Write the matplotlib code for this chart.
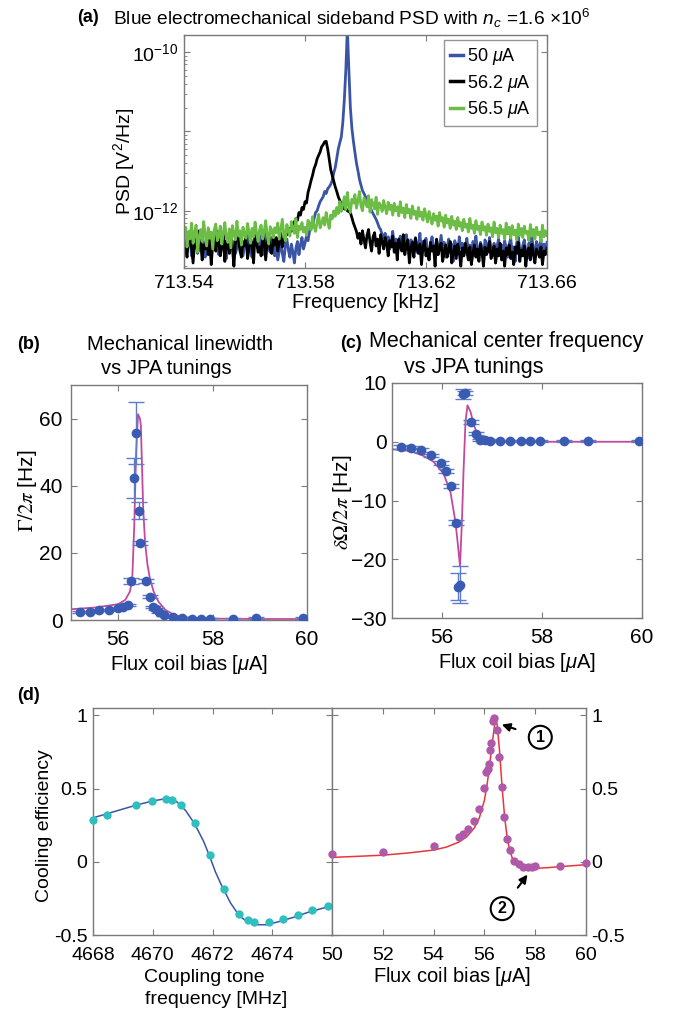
import numpy as np
import matplotlib
matplotlib.use("Agg")
import matplotlib.pyplot as plt

W, H = 673, 1015

# ---- (a) PSD traces, values in units of 1e-14 V^2/Hz, one every 0.5 Hz from 713.540 kHz ----
freq_khz = np.round(np.arange(241) * 0.0005 + 713.540, 4)
psd_50uA = [
    52, 44, 31, 38, 46, 27, 35, 49, 41, 29, 33, 55, 47, 36, 26, 42, 39, 51, 30, 37,
    45, 58, 34, 28, 40, 48, 43, 32, 25, 39, 53, 46, 35, 41, 29, 34, 50, 44, 38, 27,
    36, 47, 55, 42, 31, 26, 38, 45, 40, 33, 49, 37, 28, 43, 52, 39, 34, 30, 46, 41,
    27, 35, 24, 31, 40, 29, 23, 36, 44, 32, 26, 38, 30, 22, 34, 41, 28, 37, 46, 33, 39, 48, 42, 55,
    70, 62, 80, 95, 100, 115, 130, 140, 150, 175, 165, 190, 200, 215, 240, 300, 350, 460, 600, 720,
    850, 1300, 2500, 6000, 20000, 6000, 2000, 1100, 750, 550, 400, 320, 250, 210, 180, 165, 150, 140,
    130, 115, 100, 92, 85, 78, 70, 62, 58, 50,
    45, 52, 38, 47, 33, 41, 55, 36, 44, 29, 39, 48, 35, 42, 31, 50, 37, 26, 43, 40,
    34, 46, 30, 38, 52, 27, 41, 36, 45, 32, 24, 39, 47, 35, 30, 42, 28, 37, 49, 33,
    40, 26, 35, 44, 31, 38, 23, 42, 36, 29, 47, 34, 39, 27, 33, 45, 30, 37, 25, 41,
    36, 48, 32, 28, 40, 35, 24, 43, 38, 30, 46, 33, 27, 39, 22, 36, 44, 31, 37, 29,
    42, 34, 26, 38, 45, 30, 35, 23, 40, 47, 33, 28, 37, 43, 31, 25, 39, 35, 48, 32,
    27, 41, 36, 30, 44, 24, 38, 33, 40]
psd_562uA = [
    44, 36, 26, 48, 53, 34, 22, 39, 45, 30, 56, 41, 24, 37, 33, 49, 28, 43, 21, 38,
    46, 31, 55, 40, 27, 35, 50, 23, 42, 37, 29, 47, 34, 20, 39, 52, 44, 31, 26, 41,
    36, 48, 25, 33, 45, 38, 22, 54, 40, 30, 35, 27, 47, 42, 24, 39, 51, 33, 29, 44,
    37, 46, 31, 40, 52, 35, 43, 48,
    50, 58, 60, 55, 65, 72, 80, 76, 95, 88, 110, 104, 130, 125, 170, 200, 240, 280, 340, 380,
    450, 500, 550, 640, 680, 740, 750, 600, 450, 330, 280, 240, 200, 175, 150, 135, 120, 112,
    105, 108, 100, 97, 95, 82, 70, 62, 55,
    45, 52, 38, 56, 43, 34, 49, 58, 40, 31, 47, 53, 36, 44, 29, 50, 41, 33, 46, 38,
    27, 42, 35, 48, 30, 39, 24, 44, 36, 31, 50, 28, 37, 43, 22, 34, 40, 26, 45, 33,
    29, 38, 21, 35, 42, 27, 33, 24, 40, 31, 36, 20, 44, 28, 34, 39, 23, 30, 37, 26,
    32, 41, 22, 29, 36, 25, 38, 30, 20, 34, 27, 39, 31, 24, 35, 21, 29, 37, 26, 33,
    23, 38, 30, 20, 35, 28, 32, 41, 25, 29, 36, 22, 33, 27, 39, 24, 31, 20, 34, 28,
    37, 25, 30, 21, 35, 29, 40, 23, 32, 27, 36, 20, 31, 34, 24, 38, 28, 22, 33, 30,
    26, 35, 21, 31, 28, 34]
psd_565uA = [
    48, 62, 35, 55, 44, 70, 39, 52, 66, 30, 47, 58, 41, 73, 50, 36, 61, 45, 54, 33,
    57, 68, 42, 49, 64, 38, 53, 71, 46, 40, 59, 34, 65, 51, 43, 74, 48, 56, 37, 62,
    50, 45, 69, 54, 39, 60, 47, 72, 52, 41, 58, 66, 44, 55, 75, 49, 38, 63, 57, 46,
    61, 53, 70, 44, 59, 78, 50, 42, 67, 56, 48, 73, 60, 52, 80, 46, 64, 58, 71, 54,
    62, 49, 76, 68, 57, 84, 63, 55, 72, 90, 61, 70, 82, 66, 95, 74, 60, 88, 79, 100,
    85, 110, 92, 130, 98, 120, 150, 104, 170, 118, 95, 140, 125, 160, 108, 132, 175, 115, 100, 145,
    128, 112, 155, 96, 138, 120, 105, 148, 90, 126, 116,
    98, 135, 110, 92, 128, 104, 118, 88, 124, 100, 112, 86, 130, 95, 108, 82, 120, 94, 104, 80,
    115, 90, 98, 78, 110, 85, 96, 76, 106, 88,
    72, 98, 80, 68, 92, 76, 86, 64, 95, 74, 82, 62, 88, 70, 78, 60, 85, 66, 74, 58,
    82, 64, 71, 56, 78, 62, 68, 54, 80, 60, 66, 52, 75, 58, 64, 50, 72, 57, 63, 49,
    68, 55, 61, 47, 72, 53, 60, 46, 66, 52, 58, 44, 70, 51, 62, 45, 65, 50, 57, 43,
    68, 49, 60, 46, 64, 52, 55, 42, 67, 48, 58, 44, 62, 50, 54, 41, 66, 47, 56, 49]
psd_labels = [r"50 $\mu$A", r"56.2 $\mu$A", r"56.5 $\mu$A"]

# ---- (b) mechanical linewidth ----
bias_b = [55.2, 55.4, 55.6, 55.8, 56.0, 56.1, 56.2, 56.27, 56.33, 56.38, 56.44, 56.47, 56.59,
          56.67, 56.74, 56.8, 56.87, 56.97, 57.17, 57.36, 57.56, 57.75, 57.94, 58.44, 58.93, 59.92]
gamma_hz = [2.3, 2.4, 2.9, 3.0, 3.6, 4.0, 4.6, 11.6, 42.3, 55.7, 32.6, 22.9, 11.6,
            6.9, 4.0, 3.2, 2.4, 1.4, 0.8, 0.5, 0.4, 0.3, 0.3, 0.4, 0.5, 0.5]
gamma_err = [0.3, 0.3, 0.3, 0.3, 0.3, 0.3, 0.3, 1.0, 6.0, 9.3, 2.5, 0.7, 0.6,
             0.4, 0.3, 0.3, 0.3, 0.3, 0.3, 0.3, 0.3, 0.3, 0.3, 0.3, 0.3, 0.3]
fit_b_x = [55.0, 55.5, 56.0, 56.15, 56.25, 56.3, 56.34, 56.38, 56.42, 56.46, 56.48, 56.5,
           56.53, 56.57, 56.62, 56.67, 56.75, 56.85, 57.0, 57.2, 57.5, 58.0, 59.0, 60.0]
fit_b_y = [3.2, 3.7, 4.7, 6.0, 8.5, 13, 28, 50, 61.3, 60, 58, 48,
           33, 23, 16.5, 12.5, 8.5, 5.5, 3.0, 1.4, 0.7, 0.4, 0.3, 0.3]

# ---- (c) mechanical frequency shift ----
bias_c = [55.18, 55.38, 55.58, 55.78, 55.97, 56.07, 56.17, 56.27, 56.32, 56.35, 56.42, 56.46,
          56.57, 56.67, 56.75, 56.85, 56.95, 57.15, 57.35, 57.57, 57.75, 57.95, 58.43, 58.92, 59.93]
shift_hz = [-0.9, -1.0, -1.4, -2.3, -3.6, -5.0, -7.5, -13.8, -24.7, -24.3, 8.1, 8.3,
            3.4, 1.4, 0.3, 0.3, 0.2, 0.1, 0.1, 0.1, 0.1, 0.1, 0.1, 0.1, 0.1]
shift_err = [0.4, 0.3, 0.3, 0.3, 0.3, 0.3, 0.3, 0.4, 2.3, 3.1, 0.9, 0.4,
             0.3, 0.3, 0.2, 0.2, 0.2, 0.2, 0.2, 0.2, 0.2, 0.2, 0.2, 0.2, 0.2]
fit_c_x = [55.0, 55.37, 55.63, 55.83, 56.03, 56.17, 56.27, 56.32, 56.36, 56.4, 56.43, 56.47,
           56.51, 56.57, 56.64, 56.72, 56.84, 57.0, 58.0, 60.0]
fit_c_y = [-1.27, -1.6, -2.4, -3.4, -5.4, -8.6, -13.7, -17.7, -21.2, -13.2, -5.1, 3.4,
           6.2, 5.1, 2.8, 0.9, 0.1, 0.0, 0.0, 0.0]

# ---- (d) cooling efficiency ----
tone_mhz = [4668.0, 4668.47, 4669.44, 4669.96, 4670.44, 4670.63, 4670.94, 4671.42, 4671.91,
            4672.4, 4672.89, 4673.19, 4673.39, 4673.89, 4674.37, 4674.87, 4675.34, 4675.86]
eff_tone = [0.284, 0.318, 0.386, 0.416, 0.427, 0.425, 0.39, 0.268, 0.045,
            -0.189, -0.36, -0.398, -0.41, -0.414, -0.39, -0.366, -0.33, -0.30]
fit_tone_x = [4668.0, 4668.5, 4669.0, 4669.5, 4670.0, 4670.4, 4670.8, 4671.1, 4671.4, 4671.7,
              4671.9, 4672.1, 4672.3, 4672.6, 4672.9, 4673.2, 4673.5, 4673.8, 4674.2, 4674.7,
              4675.2, 4675.9]
fit_tone_y = [0.30, 0.33, 0.36, 0.39, 0.415, 0.43, 0.41, 0.35, 0.26, 0.14,
              0.04, -0.07, -0.16, -0.28, -0.37, -0.415, -0.43, -0.43, -0.41, -0.38,
              -0.345, -0.305]
bias_d = [50.0, 52.0, 54.0, 55.01, 55.17, 55.37, 55.58, 55.78, 55.98, 56.07, 56.14, 56.19,
          56.23, 56.27, 56.33, 56.39, 56.5, 56.59, 56.68, 56.79, 56.9, 57.0, 57.17, 57.36,
          57.53, 57.72, 57.89, 57.99, 58.98, 59.99]
eff_bias = [0.052, 0.064, 0.107, 0.166, 0.189, 0.223, 0.277, 0.357, 0.505, 0.614, 0.634, 0.67,
            0.764, 0.809, 0.961, 0.984, 0.898, 0.716, 0.511, 0.305, 0.157, 0.077, 0.007, -0.018,
            -0.034, -0.036, -0.036, -0.03, -0.03, -0.011]
fit_bias_x = [50, 51, 52, 53, 54, 54.5, 55, 55.3, 55.6, 55.8, 56.0, 56.1, 56.2, 56.3, 56.4,
              56.45, 56.5, 56.6, 56.7, 56.8, 56.9, 57.0, 57.1, 57.2, 57.4, 57.6, 57.8, 58.0,
              58.5, 59.0, 60.0]
fit_bias_y = [0.03, 0.037, 0.045, 0.06, 0.08, 0.10, 0.135, 0.17, 0.23, 0.30, 0.42, 0.52, 0.65,
              0.80, 0.93, 0.96, 0.94, 0.75, 0.50, 0.30, 0.16, 0.075, 0.025, -0.005, -0.035,
              -0.045, -0.047, -0.045, -0.04, -0.033, -0.02]

plt.rcParams["font.family"] = ["Liberation Sans", "DejaVu Sans"]
plt.rcParams["mathtext.fontset"] = "custom"
plt.rcParams["mathtext.rm"] = "Liberation Sans"
plt.rcParams["mathtext.it"] = "Liberation Sans:italic"
plt.rcParams["mathtext.bf"] = "Liberation Sans:bold"

SPINE = "#7a7a7a"
BLUE_LINE = "#3b55a6"
GREEN_LINE = "#6cbd45"
DOT_BLUE = "#3a5bb2"
ERR_BLUE = "#5f7cc8"
FIT_MAG = "#c24a9e"
CYAN = "#2fbfbf"
MAG_DOT = "#ae5aa8"
RED = "#e8353a"


def px_rect(x0, y0, x1, y1):
    return [x0 / W, 1 - y1 / H, (x1 - x0) / W, (y1 - y0) / H]


def matlab_box(ax, size, xpad=4, ypad=4):
    for s in ax.spines.values():
        s.set_color(SPINE)
        s.set_linewidth(1.0)
    ax.tick_params(direction="in", top=True, right=True, length=4, width=0.8,
                   color=SPINE, labelsize=size)
    ax.tick_params(axis="x", pad=xpad)
    ax.tick_params(axis="y", pad=ypad)
    ax.tick_params(which="minor", direction="in", length=2, width=0.6, color=SPINE)


def ftext(x, y, s, **kw):
    fig.text(x / W, 1 - y / H, s, **kw)


fig = plt.figure(figsize=(W / 100, H / 100), dpi=100)

# (a)
ax_a = fig.add_axes(px_rect(184, 35, 547, 268))
for vals, col, lab in zip([psd_50uA, psd_562uA, psd_565uA],
                          [BLUE_LINE, "black", GREEN_LINE], psd_labels):
    ax_a.plot(freq_khz, np.array(vals) * 1e-14, color=col, lw=2.0, label=lab)
ax_a.set_yscale("log")
ax_a.set_xlim(713.54, 713.66)
ax_a.set_ylim(1.9e-13, 1.64e-10)
ax_a.set_xticks([713.54, 713.58, 713.62, 713.66])
ax_a.set_xticklabels(["713.54", "713.58", "713.62", "713.66"])
ax_a.set_yticks([1e-12, 1e-11, 1e-10])
ax_a.set_yticklabels([r"10$^{-12}$", "", r"10$^{-10}$"])
matlab_box(ax_a, 14, xpad=5)
ax_a.set_xlabel("Frequency [kHz]", fontsize=14.5, labelpad=1)
ax_a.set_ylabel(r"PSD [V$^2$/Hz]", fontsize=14)
ax_a.yaxis.set_label_coords(-0.13, 0.46)
leg = ax_a.legend(loc="upper left", bbox_to_anchor=(444 / W, 1 - 40 / H),
                  bbox_transform=fig.transFigure, borderaxespad=0, fontsize=13,
                  fancybox=False, edgecolor=SPINE, handlelength=0.7, handletextpad=0.2,
                  borderpad=0.35, labelspacing=0.3)
leg.get_frame().set_linewidth(1.0)
for ln in leg.get_lines():
    ln.set_linewidth(2.5)
ftext(88, 18, "(a)", fontsize=13, fontweight="bold", ha="center", va="center")
ftext(352, 18, r"Blue electromechanical sideband PSD with $n_c$ =1.6 $\times$10$^6$",
      fontsize=13.8, ha="center", va="center")

# (b)
ax_b = fig.add_axes(px_rect(71, 385, 307, 620))
ax_b.plot(fit_b_x, fit_b_y, color=FIT_MAG, lw=1.3, zorder=2)
ax_b.errorbar(bias_b, gamma_hz, yerr=gamma_err, fmt="o", color=DOT_BLUE, ms=7,
              mec="none", ecolor=ERR_BLUE, elinewidth=1.0, capsize=6, zorder=3)
ax_b.set_xlim(55, 60)
ax_b.set_ylim(0, 70)
ax_b.set_xticks([56, 58, 60])
ax_b.set_yticks([0, 20, 40, 60])
matlab_box(ax_b, 15, xpad=7, ypad=6)
ax_b.set_xlabel(r"Flux coil bias [$\mu$A]", fontsize=14.5, labelpad=3)
ax_b.set_ylabel(r"$\Gamma/2\pi$ [Hz]", fontsize=15)
ax_b.yaxis.set_label_coords(-0.135, 0.55)
ax_b.yaxis.label.set_math_fontfamily("stix")
ftext(29, 345, "(b)", fontsize=13, fontweight="bold", ha="center", va="center")
ftext(180, 345, "Mechanical linewidth", fontsize=14.5, ha="center", va="center")
ftext(166, 368, "vs JPA tunings", fontsize=14.5, ha="center", va="center")

# (c)
ax_c = fig.add_axes(px_rect(392, 383, 642, 618))
ax_c.plot(fit_c_x, fit_c_y, color=FIT_MAG, lw=1.3, zorder=2)
ax_c.errorbar(bias_c, shift_hz, yerr=shift_err, fmt="o", color=DOT_BLUE, ms=7,
              mec="none", ecolor=ERR_BLUE, elinewidth=1.0, capsize=6, zorder=3)
ax_c.set_xlim(55, 60)
ax_c.set_ylim(-30, 10)
ax_c.set_xticks([56, 58, 60])
ax_c.set_yticks([-30, -20, -10, 0, 10])
matlab_box(ax_c, 15, xpad=7)
ax_c.set_xlabel(r"Flux coil bias [$\mu$A]", fontsize=14.5, labelpad=3)
ax_c.set_ylabel(r"$\delta\Omega/2\pi$ [Hz]", fontsize=15)
ax_c.yaxis.set_label_coords(-0.152, 0.49)
ax_c.yaxis.label.set_math_fontfamily("stix")
ftext(351, 343, "(c)", fontsize=13, fontweight="bold", ha="center", va="center")
ftext(506, 342, "Mechanical center frequency", fontsize=15.5, ha="center", va="center")
ftext(474, 367, "vs JPA tunings", fontsize=15.5, ha="center", va="center")

# (d) left: versus coupling tone
ax_dl = fig.add_axes(px_rect(93, 708, 332, 935))
ax_dl.plot(fit_tone_x, fit_tone_y, color=BLUE_LINE, lw=1.1, zorder=2)
ax_dl.plot(tone_mhz, eff_tone, "o", color=CYAN, ms=6, mec="none", zorder=3, clip_on=False)
ax_dl.set_xlim(4668, 4676)
ax_dl.set_ylim(-0.5, 1.05)
ax_dl.set_xticks([4668, 4670, 4672, 4674])
ax_dl.set_yticks([-0.5, 0, 0.5, 1])
ax_dl.set_yticklabels(["-0.5", "0", "0.5", "1"])
matlab_box(ax_dl, 14, xpad=9)
ax_dl.set_ylabel("Cooling efficiency", fontsize=14)
ax_dl.yaxis.set_label_coords(-0.167, 0.48)
ftext(144, 978, "Coupling tone", fontsize=14, ha="left", va="center")
ftext(145, 1000, "frequency [MHz]", fontsize=14, ha="left", va="center")
ftext(29, 695, "(d)", fontsize=13, fontweight="bold", ha="center", va="center")

# (d) right: versus flux bias
ax_dr = fig.add_axes(px_rect(332, 708, 586, 935))
ax_dr.plot(fit_bias_x, fit_bias_y, color=RED, lw=1.1, zorder=2)
ax_dr.plot(bias_d, eff_bias, "o", color=MAG_DOT, ms=6, mec="none", zorder=3, clip_on=False)
ax_dr.set_xlim(50, 60)
ax_dr.set_ylim(-0.5, 1.05)
ax_dr.set_xticks([50, 52, 54, 56, 58, 60])
ax_dr.set_yticks([-0.5, 0, 0.5, 1])
ax_dr.set_yticklabels(["-0.5", "0", "0.5", "1"])
matlab_box(ax_dr, 14, xpad=9)
ax_dr.tick_params(labelleft=False, labelright=True)
ftext(452, 977, r"Flux coil bias [$\mu$A]", fontsize=14.5, ha="center", va="center")

circ = dict(boxstyle="circle,pad=0.25", fc="white", ec="black", lw=1.5)
arrow = dict(arrowstyle="-|>", color="black", lw=1.5, mutation_scale=12, shrinkA=10, shrinkB=1)
ax_dr.annotate("1", xy=(56.63, 0.94), xytext=(58.2, 0.85), fontsize=11.5, fontweight="bold",
               ha="center", va="center", bbox=circ, arrowprops=arrow)
ax_dr.annotate("2", xy=(57.73, -0.08), xytext=(56.7, -0.32), fontsize=11.5, fontweight="bold",
               ha="center", va="center", bbox=circ, arrowprops=arrow)

fig.savefig("out.png", dpi=100)
